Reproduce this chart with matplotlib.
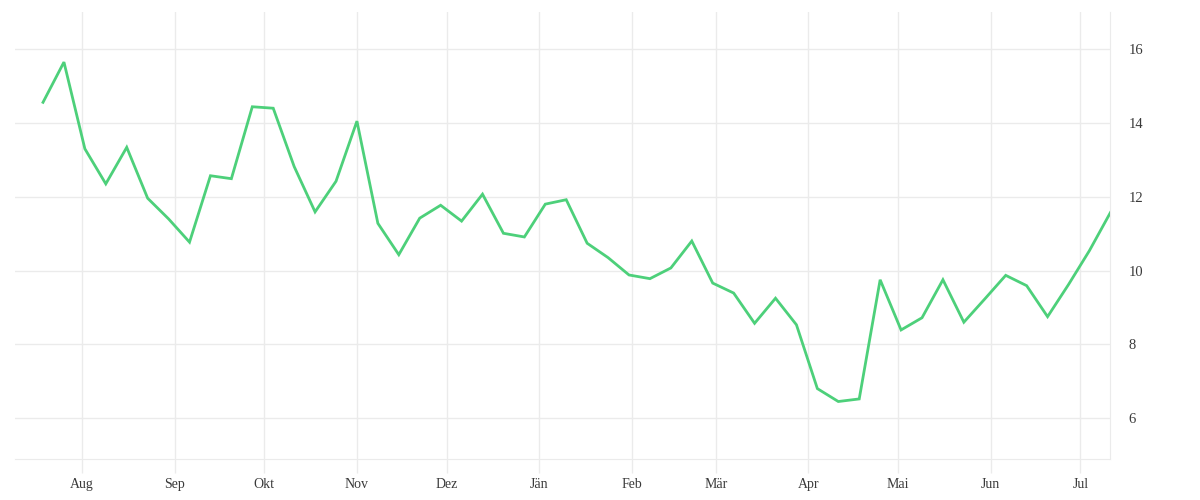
import numpy as np
import pandas as pd
import matplotlib.pyplot as plt
import matplotlib.dates as mdates

dates = pd.date_range("2022-07-19", periods=52, freq="7D")
values = [14.56, 15.65, 13.30, 12.35, 13.34, 11.96, 11.40, 10.77, 12.57, 12.49,
          14.44, 14.40, 12.82, 11.59, 12.42, 14.05, 11.28, 10.43, 11.42, 11.77,
          11.34, 12.07, 11.01, 10.91, 11.80, 11.92, 10.74, 10.35, 9.88, 9.78,
          10.07, 10.80, 9.66, 9.39, 8.57, 9.25, 8.53, 6.80, 6.45, 6.52,
          9.75, 8.39, 8.72, 9.75, 8.60, 9.23, 9.87, 9.59, 8.75, 9.62,
          10.54, 11.57]
month_labels = ["Aug", "Sep", "Okt", "Nov", "Dez", "Jän", "Feb", "Mär",
                "Apr", "Mai", "Jun", "Jul"]
month_ticks = pd.date_range("2022-08-01", periods=12, freq="MS")
y_ticks = [6, 8, 10, 12, 14, 16]

grid_col = "#ebebeb"
text_col = "#3a3a3a"

fig = plt.figure(figsize=(12, 5), dpi=100)
ax = fig.add_axes([0.0128, 0.0826, 0.9125, 0.8928])

ax.plot(dates, values, color="#4dd07a", lw=2.0, solid_joinstyle="miter", zorder=3)

ax.set_xlim(pd.Timestamp("2022-07-09 18:00"), dates[-1])
ax.set_ylim(4.9, 17.0)

ax.set_xticks(month_ticks)
ax.set_xticklabels(month_labels)
ax.set_yticks(y_ticks)
ax.yaxis.tick_right()

ax.grid(True, color=grid_col, lw=1)
ax.set_axisbelow(True)
for side in ["top", "left"]:
    ax.spines[side].set_visible(False)
ax.spines["bottom"].set_color(grid_col)
ax.spines["right"].set_color(grid_col)

ax.tick_params(axis="x", length=10, width=1, color=grid_col, pad=4,
               labelsize=10, labelcolor=text_col)
ax.tick_params(axis="y", length=0, pad=13, labelsize=10.5, labelcolor=text_col)
for lbl in ax.get_xticklabels() + ax.get_yticklabels():
    lbl.set_family("Liberation Serif")

fig.savefig("out.png", dpi=100, facecolor="white")
